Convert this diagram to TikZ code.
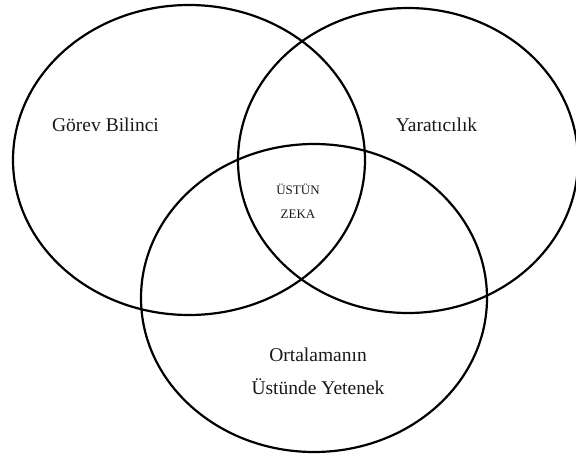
\documentclass[tikz,border=0pt]{standalone}
\usepackage{fontspec}
\setmainfont{Liberation Serif}
\usetikzlibrary{shapes.geometric}
\tikzset{
  ring/.style={
    ellipse,
    draw=black,
    line width=2.2pt,
    inner sep=0pt
  },
  setname/.style={
    align=center,
    inner sep=0pt,
    text=black!90,
    font=\fontsize{19.5}{33}\selectfont
  },
  corename/.style={
    setname,
    font=\fontsize{13}{24}\selectfont
  }
}

\begin{document}
\begin{tikzpicture}[x=1pt,y=-1pt]
  \useasboundingbox (0,0) rectangle (576,461);

  \node[ring, minimum width=352pt, minimum height=310pt] (gorev) at (189,160) {};
  \node[ring, minimum width=340pt, minimum height=305pt] (yarat) at (408,160.5) {};
  \node[ring, minimum width=346pt, minimum height=308pt] (yetenek) at (314,298) {};

  \node[setname] (gorevtxt) at (105.5,125) {Görev Bilinci};
  \node[setname] (yarattxt) at (436.5,125) {Yaratıcılık};
  \node[setname] (yetenektxt) at (318,371.5) {Ortalamanın\\Üstünde Yetenek};
  \node[corename] (zeka) at (298,201) {ÜSTÜN\\ZEKA};
\end{tikzpicture}
\end{document}
